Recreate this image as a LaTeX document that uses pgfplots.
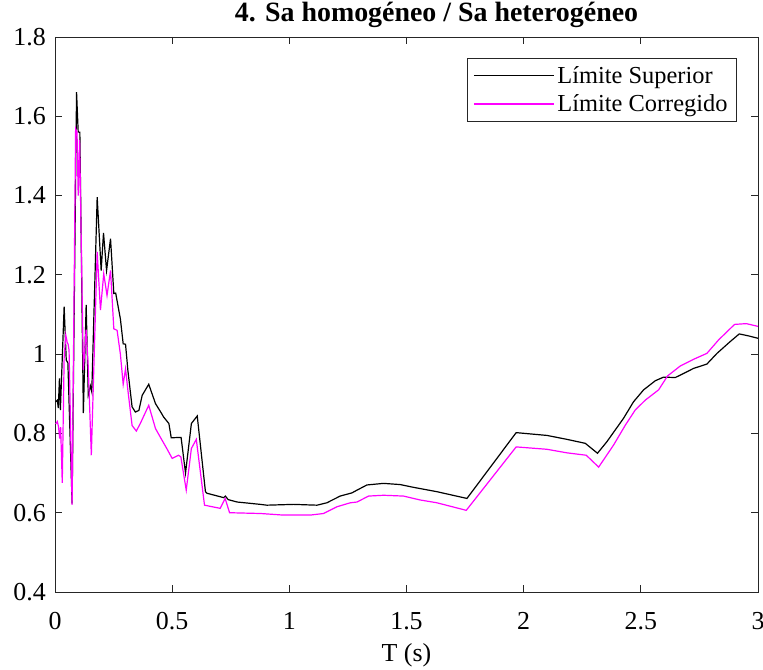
\documentclass[border=0pt]{standalone}
\usepackage{pgfplots}
\pgfplotsset{compat=1.18}
\usepackage{fontspec}
\setmainfont{Liberation Serif}

\definecolor{axgray}{rgb}{0.15,0.15,0.15}

\begin{document}
\begin{tikzpicture}
\begin{axis}[
  scale only axis,
  width=703bp, height=555bp,
  xmin=0, xmax=3, ymin=0.4, ymax=1.8,
  xtick={0,0.5,...,3},
  ytick={0.4,0.6,...,1.8},
  /pgf/number format/assume math mode=true,
  xticklabel style={font=\fontsize{26}{29}\selectfont, anchor=base, inner sep=0pt, yshift=-37bp},
  yticklabel style={font=\fontsize{26}{29}\selectfont, anchor=east, inner sep=0pt, xshift=-9bp,
                    /pgf/number format/fixed},
  xticklabel={\pgfmathprintnumber[fixed]{\tick}},
  axis line style={axgray, line width=0.8bp},
  tick style={axgray, line width=0.8bp},
  major tick length=7bp,
  tick align=inside,
  xlabel={T (s)},
  xlabel style={font=\fontsize{26}{30}\selectfont, at={(axis description cs:0.5,0)}, anchor=center, yshift=-63bp},
  title={\textbf{4. Sa homogéneo / Sa heterogéneo}},
  title style={font=\fontsize{28}{31}\selectfont, at={(axis description cs:0.5,1)}, anchor=center, yshift=16bp, xshift=30bp},
  legend style={at={(axis description cs:1,1)}, anchor=north east, xshift=-21bp, yshift=-21bp,
                draw=axgray, line width=0.8bp, fill=white,
                font=\fontsize{24.5}{27}\selectfont,
                inner xsep=6bp, inner ysep=5bp, row sep=4bp,
                nodes={inner sep=3bp}},
  legend cell align=left,
  legend image code/.code={\draw[#1, line width=1.2bp] (0bp,0bp) -- (80bp,0bp);},
]
\addplot[black, line width=1.2bp] coordinates {
(0.003,0.880) (0.010,0.884) (0.014,0.864) (0.019,0.939) (0.023,0.859)
(0.039,1.120) (0.048,0.985) (0.055,0.978) (0.073,0.623) (0.092,1.661)
(0.099,1.560) (0.106,1.560) (0.121,0.851) (0.133,1.124) (0.142,0.897)
(0.151,0.920) (0.157,0.905) (0.180,1.396) (0.197,1.211) (0.207,1.306)
(0.220,1.211) (0.237,1.291) (0.251,1.153) (0.259,1.154) (0.279,1.089)
(0.291,1.026) (0.301,1.025) (0.311,0.959) (0.329,0.867) (0.343,0.854)
(0.358,0.858) (0.372,0.896) (0.400,0.924) (0.429,0.875) (0.450,0.855)
(0.464,0.841) (0.486,0.825) (0.496,0.789) (0.538,0.790) (0.557,0.700)
(0.582,0.825) (0.607,0.844) (0.642,0.653) (0.649,0.649) (0.720,0.638)
(0.727,0.642) (0.739,0.633) (0.777,0.627) (0.877,0.621) (0.904,0.619)
(1.018,0.621) (1.118,0.619) (1.160,0.625) (1.217,0.642) (1.267,0.650)
(1.289,0.657) (1.331,0.670) (1.402,0.674) (1.473,0.671) (1.530,0.664)
(1.630,0.653) (1.758,0.636) (1.968,0.802) (2.099,0.795) (2.185,0.785)
(2.263,0.775) (2.315,0.750) (2.355,0.779) (2.426,0.838) (2.469,0.880)
(2.512,0.910) (2.562,0.933) (2.597,0.942) (2.647,0.941) (2.668,0.947)
(2.725,0.964) (2.782,0.975) (2.825,1.002) (2.882,1.032) (2.920,1.051)
(2.960,1.046) (3.000,1.040)
};
\addlegendentry{Límite Superior}
\addplot[color={rgb,1:red,1;green,0;blue,1}, line width=1.2bp] coordinates {
(0.003,0.824) (0.010,0.830) (0.015,0.817) (0.020,0.787) (0.024,0.816)
(0.031,0.675) (0.039,0.990) (0.046,1.048) (0.052,1.030) (0.056,1.025)
(0.060,1.010) (0.073,0.620) (0.088,1.569) (0.094,1.560) (0.099,1.400)
(0.105,1.540) (0.121,0.960) (0.133,1.062) (0.142,0.967) (0.155,0.745)
(0.180,1.258) (0.194,1.111) (0.208,1.203) (0.222,1.148) (0.237,1.211)
(0.251,1.064) (0.265,1.060) (0.279,1.000) (0.291,0.924) (0.301,0.963)
(0.311,0.909) (0.329,0.820) (0.347,0.806) (0.364,0.825) (0.400,0.871)
(0.429,0.812) (0.450,0.790) (0.477,0.762) (0.500,0.737) (0.527,0.745)
(0.537,0.741) (0.560,0.657) (0.582,0.762) (0.603,0.785) (0.638,0.619)
(0.705,0.611) (0.726,0.636) (0.745,0.600) (0.877,0.598) (0.975,0.594)
(1.089,0.594) (1.146,0.598) (1.203,0.615) (1.260,0.625) (1.289,0.627)
(1.338,0.642) (1.402,0.644) (1.487,0.642) (1.559,0.632) (1.630,0.625)
(1.755,0.606) (1.968,0.766) (2.099,0.760) (2.185,0.751) (2.267,0.745)
(2.320,0.715) (2.384,0.771) (2.434,0.821) (2.476,0.859) (2.519,0.884)
(2.576,0.910) (2.614,0.945) (2.668,0.970) (2.725,0.987) (2.782,1.002)
(2.832,1.036) (2.900,1.075) (2.950,1.077) (3.000,1.070)
};
\addlegendentry{Límite Corregido}
\end{axis}
\pgfresetboundingbox
\path (current axis.south west) ++(-55bp,-78bp) coordinate (bbA);
\path (current axis.north east) ++(5bp,37bp) coordinate (bbB);
\path (bbA) rectangle (bbB);
\end{tikzpicture}
\end{document}
